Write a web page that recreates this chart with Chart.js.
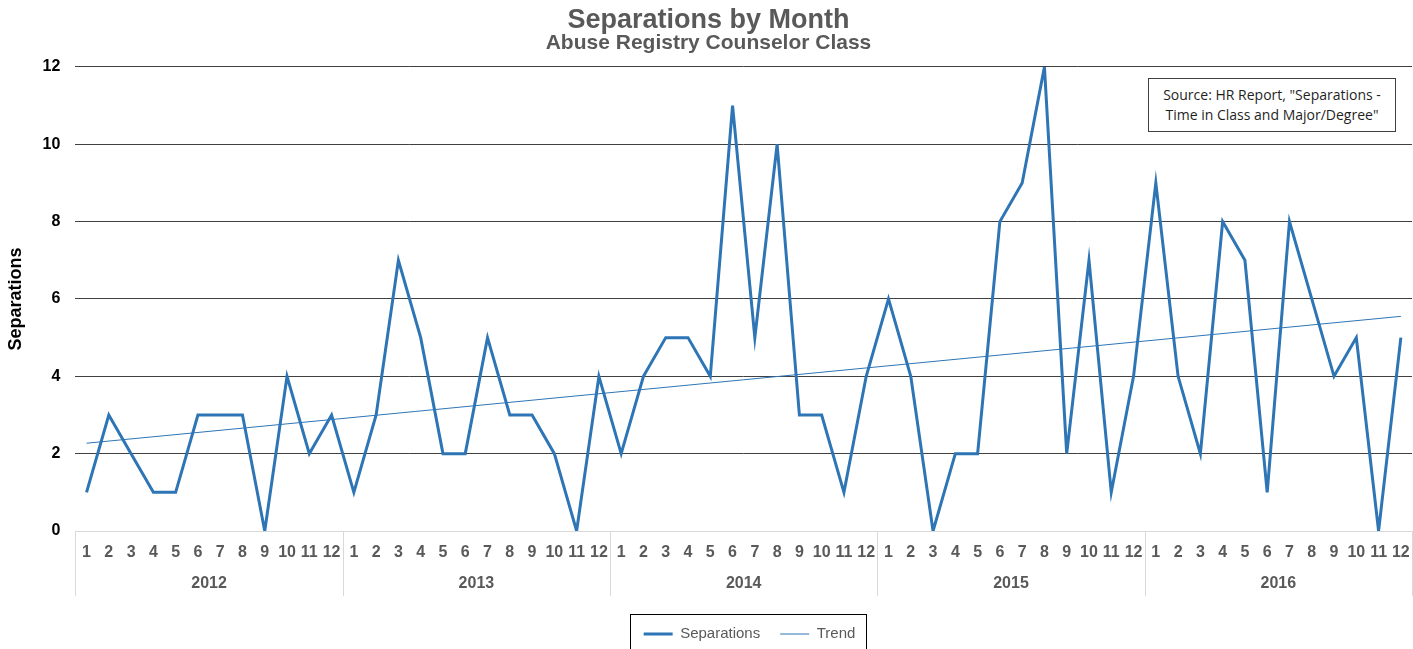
<!DOCTYPE html>
<html>
<head>
<meta charset="utf-8">
<script src="https://cdn.jsdelivr.net/npm/chart.js@4/dist/chart.umd.min.js"></script>
<style>
  html, body { margin: 0; padding: 0; background: #fff; }
  #wrap { position: relative; width: 1413px; height: 649px; }
  #source {
    position: absolute; left: 1148px; top: 78px; width: 246px; height: 52px;
    border: 1px solid #404040; background: #fff;
    font: 14px "Open Sans", "Noto Sans", sans-serif; color: #1f1f1f;
    display: flex; align-items: center; justify-content: center; text-align: center;
    line-height: 20px;
  }
</style>
</head>
<body>
<div id="wrap">
  <canvas id="chart" width="1413" height="649"></canvas>
  <div id="source">Source: HR Report, "Separations -<br>Time in Class and Major/Degree"</div>
</div>
<script>
const years = ['2012', '2013', '2014', '2015', '2016'];
const months = ['1', '2', '3', '4', '5', '6', '7', '8', '9', '10', '11', '12'];

// separations per month, one array per year
const sep2012 = [1, 3, 2, 1, 1, 3, 3, 3, 0, 4, 2, 3];
const sep2013 = [1, 3, 7, 5, 2, 2, 5, 3, 3, 2, 0, 4];
const sep2014 = [2, 4, 5, 5, 4, 11, 5, 10, 3, 3, 1, 4];
const sep2015 = [6, 4, 0, 2, 2, 8, 9, 12, 2, 7, 1, 4];
const sep2016 = [9, 4, 2, 8, 7, 1, 8, 6, 4, 5, 0, 5];

// trend line end points
const trendStart = 2.27;
const trendEnd = 5.55;

const yTicks = [0, 2, 4, 6, 8, 10, 12];

const FONT = '"Liberation Sans", Arial, sans-serif';
const BLUE = '#2e75b6';

const labels = [];
years.forEach(() => months.forEach(m => labels.push(m)));
const separations = [].concat(sep2012, sep2013, sep2014, sep2015, sep2016);
const trend = labels.map((_, i) => i === 0 ? trendStart : (i === labels.length - 1 ? trendEnd : null));

// legend sits a bit right of centre in the original, inside a box
const LEGEND_SHIFT_X = 41;
const LEGEND_SHIFT_Y = -12.5;

const extras = {
    id: 'extras',
    afterInit(chart) {
        const lg = chart.legend;
        const fit = lg.fit.bind(lg);
        lg.fit = function () { fit(); if (this.isHorizontal()) this.height = 30; };
    },
    beforeDraw(chart) {
        const lg = chart.legend;
        lg.left += LEGEND_SHIFT_X; lg.right += LEGEND_SHIFT_X;
        lg.top += LEGEND_SHIFT_Y;
        lg.adjustHitBoxes();
    },
    afterDraw(chart) {
        const ctx = chart.ctx;
        const x = chart.scales.x;
        const half = (x.getPixelForValue(1) - x.getPixelForValue(0)) / 2;
        ctx.save();
        // year separators under the month labels
        ctx.strokeStyle = '#d9d9d9';
        ctx.lineWidth = 1;
        for (let i = 0; i <= labels.length; i += months.length) {
            const px = Math.round(x.getPixelForValue(i) - half) + 0.5;
            ctx.beginPath();
            ctx.moveTo(px, x.top);
            ctx.lineTo(px, x.top + 65);
            ctx.stroke();
        }
        // legend frame
        const boxes = chart.legend.legendHitBoxes;
        if (boxes && boxes.length) {
            const l = Math.min(...boxes.map(b => b.left)) - 14;
            const r = Math.max(...boxes.map(b => b.left + b.width)) + 10;
            ctx.strokeStyle = '#000';
            ctx.strokeRect(Math.round(l) + 0.5, 614.5, Math.round(r - l), 60);
        }
        ctx.restore();
        const lg = chart.legend;
        lg.left -= LEGEND_SHIFT_X; lg.right -= LEGEND_SHIFT_X;
        lg.top -= LEGEND_SHIFT_Y;
    }
};

new Chart(document.getElementById('chart'), {
    type: 'line',
    data: {
        labels: labels,
        datasets: [
            {
                label: 'Separations',
                data: separations,
                borderColor: BLUE,
                backgroundColor: BLUE,
                borderWidth: 3,
                pointRadius: 0,
                tension: 0
            },
            {
                label: 'Trend',
                data: trend,
                borderColor: BLUE,
                backgroundColor: BLUE,
                borderWidth: 1,
                pointRadius: 0,
                spanGaps: true
            }
        ]
    },
    options: {
        responsive: false,
        animation: false,
        layout: { padding: { left: 5, right: 1, top: 0, bottom: 0 } },
        plugins: {
            title: {
                display: true,
                text: 'Separations by Month',
                color: '#595959',
                font: { family: FONT, size: 27, weight: 'bold', lineHeight: 1.0 },
                padding: { top: 7, bottom: 0 }
            },
            subtitle: {
                display: true,
                text: 'Abuse Registry Counselor Class',
                color: '#595959',
                font: { family: FONT, size: 21, weight: 'bold', lineHeight: 0.9 },
                padding: { top: 0, bottom: 14 }
            },
            legend: {
                position: 'bottom',
                labels: {
                    usePointStyle: true,
                    pointStyle: 'line',
                    pointStyleWidth: 29,
                    color: '#595959',
                    font: { family: FONT, size: 15 },
                    padding: 20
                }
            },
            tooltip: { enabled: false }
        },
        scales: {
            x: {
                type: 'category',
                offset: true,
                grid: { display: true, drawOnChartArea: false, drawTicks: true, tickLength: 12, color: 'rgba(0,0,0,0)' },
                border: { display: true, color: '#d9d9d9', width: 1 },
                ticks: {
                    autoSkip: false,
                    maxRotation: 0,
                    color: '#595959',
                    font: { family: FONT, size: 16, weight: 'bold' },
                    padding: 0
                },
                afterFit(scale) { scale.height = 40; }
            },
            x2: {
                type: 'category',
                position: 'bottom',
                labels: years,
                offset: true,
                grid: { display: false, drawTicks: false },
                border: { display: false },
                ticks: {
                    color: '#595959',
                    font: { family: FONT, size: 16, weight: 'bold' },
                    padding: 3
                },
                afterFit(scale) { scale.height = 48; }
            },
            y: {
                min: 0,
                max: 12,
                afterBuildTicks(scale) { scale.ticks = yTicks.map(v => ({ value: v })); },
                grid: {
                    drawTicks: false,
                    color: ctx => ctx.tick && ctx.tick.value === 0 ? 'rgba(0,0,0,0)' : '#404040'
                },
                border: { display: false },
                ticks: {
                    color: '#000',
                    font: { family: FONT, size: 16, weight: 'bold' },
                    padding: 15
                },
                title: {
                    display: true,
                    text: 'Separations',
                    color: '#000',
                    font: { family: FONT, size: 18, weight: 'bold' },
                    padding: { top: 0, bottom: 1 }
                }
            }
        }
    },
    plugins: [extras]
});
</script>
</body>
</html>
